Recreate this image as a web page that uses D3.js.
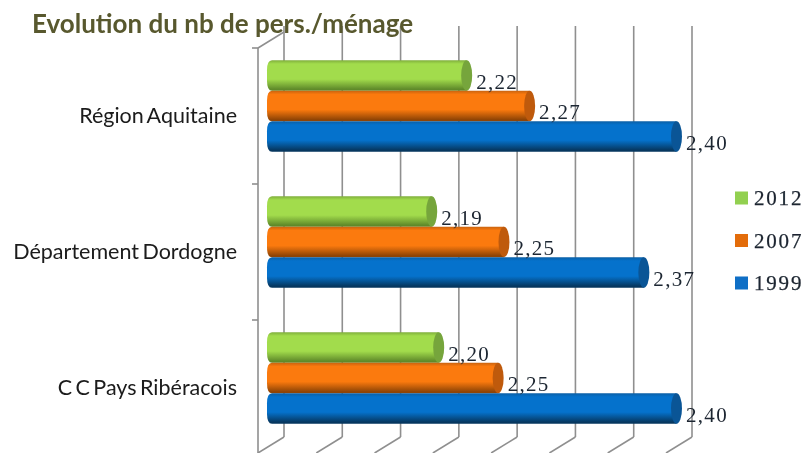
<!DOCTYPE html>
<html><head><meta charset="utf-8">
<script src="https://cdn.jsdelivr.net/npm/d3@7/dist/d3.min.js"></script>
<style>html,body{margin:0;padding:0;background:#fff}svg{display:block}</style>
</head><body><svg id="c" width="804" height="453"></svg>
<script>
const title = "Evolution du nb de pers./ménage";
const categories = ["Région Aquitaine","Département Dordogne","C C Pays Ribéracois"];
const seriesNames = ["2012","2007","1999"];
const values2012 = [2.22,2.19,2.196];
const values2007 = [2.274,2.252,2.247];
const values1999 = [2.40,2.372,2.40];
const seriesValues = [values2012,values2007,values1999];
const palette = [
 {top:"#7fae3c",mid:"#a2dc4c",bot:"#5f8a2a",cap:"#76a53c",key:"#92d050"},
 {top:"#c9630f",mid:"#fb7a0e",bot:"#8f4405",cap:"#bf5a0c",key:"#e36c0a"},
 {top:"#0b5fa5",mid:"#0572cc",bot:"#06375f",cap:"#0a5596",key:"#0f6fc6"}
];
const svg = d3.select("#c");
const fmt = v => d3.format(".2f")(v).replace(".",",");
const x = d3.scaleLinear().domain([2.05,2.40]).range([284,692]);
const y = d3.scaleBand().domain(categories).range([48,456]);
const sub = d3.scaleBand().domain(seriesNames).range([0,91.5]);
const depthX = 26, depthY = 16, barShift = -10, barYShift = -10, rx = 5.5;
const gridTop = 26, gridBottom = 437, wallX = 258;

const defs = svg.append("defs");
palette.forEach((p,i)=>{
  const g = defs.append("linearGradient").attr("id","g"+i).attr("x1",0).attr("x2",0).attr("y1",0).attr("y2",1);
  [[0,p.top],[.12,p.mid],[.62,p.mid],[.95,p.bot],[1,p.bot]].forEach(s=>g.append("stop").attr("offset",s[0]).attr("stop-color",s[1]));
});
const soft = defs.append("filter").attr("id","soft"); soft.append("feGaussianBlur").attr("stdDeviation",0.35);

// walls and grid
const grid = svg.append("g").attr("stroke","#8f8f8f").attr("stroke-width",1.6).attr("fill","none");
x.ticks(7).forEach(t=>{
  grid.append("line").attr("x1",x(t)).attr("x2",x(t)).attr("y1",gridTop).attr("y2",gridBottom);
  grid.append("line").attr("x1",x(t)).attr("x2",x(t)-depthX).attr("y1",gridBottom).attr("y2",gridBottom+depthY);
});
grid.append("line").attr("x1",wallX).attr("x2",wallX).attr("y1",y(categories[0])).attr("y2",453);
grid.append("line").attr("x1",wallX).attr("x2",x(2.05)).attr("y1",y(categories[0])).attr("y2",y(categories[0])-depthY);
categories.forEach(c=>grid.append("line").attr("x1",wallX-6).attr("x2",wallX).attr("y1",y(c)).attr("y2",y(c)));

// bars
const barStart = x(2.05)+barShift-7;
const groups = svg.append("g").selectAll("g").data(categories).join("g")
  .attr("transform",c=>`translate(0,${y(c)+(y.bandwidth()-91.5)/2+barYShift})`);
groups.each(function(c,ci){
  const gg = d3.select(this);
  seriesNames.forEach((s,si)=>{
    const v = seriesValues[si][ci], tip = x(v)+barShift, h = sub.bandwidth(), t = sub(s);
    gg.append("path").attr("fill",`url(#g${si})`)
      .attr("d",`M${barStart+5},${t}L${tip-rx},${t}L${tip-rx},${t+h}L${barStart+5},${t+h}Q${barStart},${t+h} ${barStart},${t+h-10}L${barStart},${t+10}Q${barStart},${t} ${barStart+5},${t}Z`);
    gg.append("ellipse").attr("cx",tip-rx).attr("cy",t+h/2).attr("rx",rx).attr("ry",h/2).attr("fill",palette[si].cap);
  });
});
// value labels
groups.each(function(c,ci){
  const gg = d3.select(this);
  seriesNames.forEach((s,si)=>{
    const v = seriesValues[si][ci];
    gg.append("text").attr("x",x(v)+barShift+4).attr("y",sub(s)+sub.bandwidth()-2)
      .attr("font-family","Liberation Serif").attr("font-size",21).attr("letter-spacing",1.3).attr("fill","#1c2530").attr("filter","url(#soft)").text(fmt(v));
  });
});

// category labels
svg.append("g").selectAll("text").data(categories).join("text")
  .attr("x",237).attr("y",c=>y(c)+y.bandwidth()/2+7)
  .attr("text-anchor","end").attr("font-family","Lato").attr("font-size",21.5).attr("word-spacing",-2).attr("fill","#1a1a1a").attr("filter","url(#soft)").text(c=>c);

// title
svg.append("text").attr("x",32).attr("y",33).attr("font-family","Lato").attr("font-weight",700).attr("font-size",26)
  .attr("fill","#59592f").attr("filter","url(#soft)").text(title);

// legend
const legendY = d3.scalePoint().domain(seriesNames).range([198,283]);
const lg = svg.append("g").selectAll("g").data(seriesNames).join("g").attr("transform",s=>`translate(0,${legendY(s)})`);
lg.append("rect").attr("x",735).attr("y",-6.5).attr("width",13).attr("height",13).attr("fill",(s,i)=>palette[i].key);
lg.append("text").attr("x",754).attr("y",7).attr("font-family","Liberation Serif").attr("font-size",21).attr("letter-spacing",1.8).attr("stroke","#1c2530").attr("stroke-width",0.25).attr("fill","#1c2530").attr("filter","url(#soft)").text(s=>s);
</script></body></html>
